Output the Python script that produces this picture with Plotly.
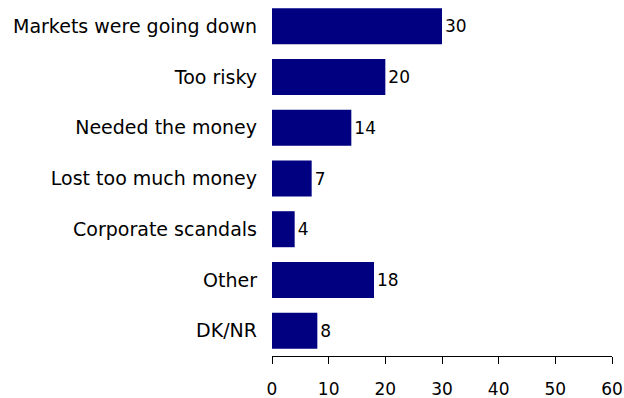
import plotly.graph_objects as go

categories = [
    "Markets were going down",
    "Too risky",
    "Needed the money",
    "Lost too much money",
    "Corporate scandals",
    "Other",
    "DK/NR",
]
values = [30, 20, 14, 7, 4, 18, 8]
x_ticks = [0, 10, 20, 30, 40, 50, 60]

fig = go.Figure(
    go.Bar(
        x=values,
        y=categories,
        orientation="h",
        marker=dict(color="#000080", line=dict(width=0)),
        text=[str(v) for v in values],
        textposition="outside",
        textfont=dict(color="#000000", size=17),
        cliponaxis=False,
    )
)

fig.update_layout(
    width=624,
    height=398,
    margin=dict(l=272, r=12, t=1, b=42),
    paper_bgcolor="white",
    plot_bgcolor="white",
    font=dict(family="DejaVu Sans", size=17, color="#000000"),
    bargap=0.29,
    showlegend=False,
)

fig.update_xaxes(
    range=[0, 60],
    tickvals=x_ticks,
    ticktext=[str(t) for t in x_ticks],
    tickfont=dict(size=17),
    showgrid=False,
    zeroline=False,
    showline=True,
    linecolor="#000000",
    linewidth=1,
    ticks="outside",
    ticklen=7,
    tickcolor="#000000",
    ticklabelstandoff=11,
    automargin=False,
)
fig.update_yaxes(
    autorange="reversed",
    tickfont=dict(size=19),
    showgrid=False,
    zeroline=False,
    showline=False,
    ticks="",
    ticklabelstandoff=14,
    automargin=False,
)

fig.write_html("out.html")
